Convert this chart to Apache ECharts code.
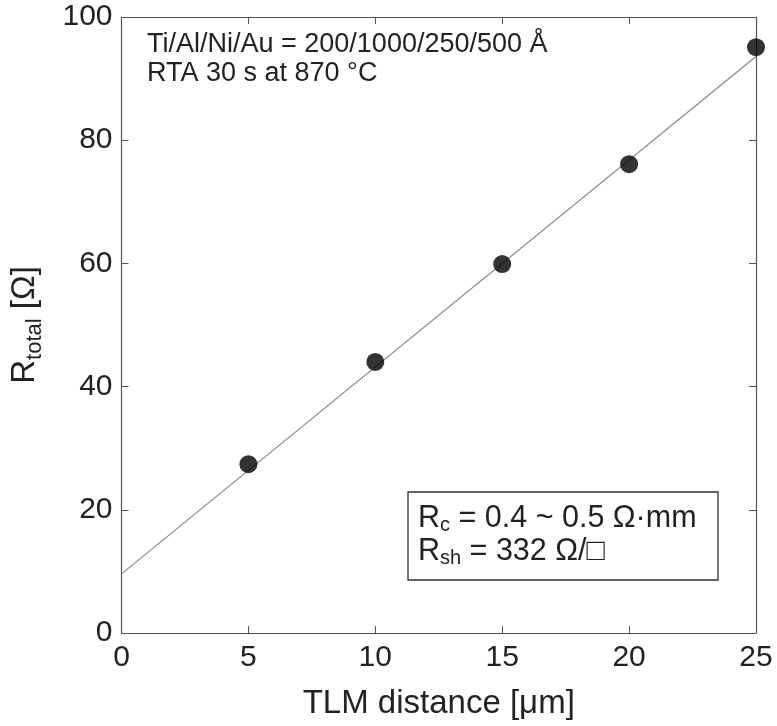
<!DOCTYPE html>
<html>
<head>
<meta charset="utf-8">
<script src="https://cdn.jsdelivr.net/npm/echarts@6/dist/echarts.min.js"></script>
<style>
  html, body { margin: 0; padding: 0; background: #fff; }
  #chart { width: 777px; height: 726px; }
</style>
</head>
<body>
<div id="chart"></div>
<script>
// TLM data
var distances = [5, 10, 15, 20, 25];
var rTotal = [27.4, 44.0, 59.9, 76.1, 95.1];
// linear fit drawn as a thin line (ends)
var fitX = [0, 25];
var fitY = [9.6, 93.6];

var xTicks = [0, 5, 10, 15, 20, 25];
var yTicks = [0, 20, 40, 60, 80, 100];

var chart = echarts.init(document.getElementById('chart'));

var font = 'Liberation Sans, Arial, sans-serif';
var axisColor = '#555';

function frameAxis(extra) {
  var base = {
    axisLine: { show: true, onZero: false, lineStyle: { color: axisColor, width: 1.2 } },
    axisTick: { show: true, inside: true, length: 7, lineStyle: { color: axisColor } },
    splitLine: { show: false }
  };
  return Object.assign(base, extra);
}

var option = {
  backgroundColor: '#fff',
  animation: false,
  grid: { left: 120, right: 21, top: 17, bottom: 93 },
  xAxis: [
    frameAxis({
      type: 'value', min: xTicks[0], max: xTicks[xTicks.length - 1], interval: 5,
      position: 'bottom',
      axisLabel: { color: '#222', fontSize: 30, fontFamily: font, margin: 10 },
      name: 'TLM distance [μm]',
      nameLocation: 'middle',
      nameGap: 54,
      nameTextStyle: { color: '#222', fontSize: 33, fontFamily: font }
    }),
    frameAxis({
      type: 'value', min: xTicks[0], max: xTicks[xTicks.length - 1], interval: 5,
      position: 'top', axisLabel: { show: false }
    })
  ],
  yAxis: [
    frameAxis({
      type: 'value', min: yTicks[0], max: yTicks[yTicks.length - 1], interval: 20,
      position: 'left',
      axisLabel: { color: '#222', fontSize: 30, fontFamily: font, margin: 9 },
      name: '{a|R}{b|total}{a| [Ω]}',
      nameLocation: 'middle',
      nameGap: 76,
      nameRotate: 90,
      nameTextStyle: {
        color: '#222', fontFamily: font,
        rich: {
          a: { fontSize: 33, fontFamily: font, color: '#222', lineHeight: 42, verticalAlign: 'middle' },
          b: { fontSize: 22, fontFamily: font, color: '#222', lineHeight: 22, verticalAlign: 'bottom' }
        }
      }
    }),
    frameAxis({
      type: 'value', min: yTicks[0], max: yTicks[yTicks.length - 1], interval: 20,
      position: 'right', axisLabel: { show: false }
    })
  ],
  series: [
    {
      name: 'fit',
      type: 'line',
      data: fitX.map(function (x, i) { return [x, fitY[i]]; }),
      showSymbol: false,
      lineStyle: { color: '#888', width: 1.2 },
      z: 2
    },
    {
      name: 'R total',
      type: 'scatter',
      data: distances.map(function (x, i) { return [x, rTotal[i]]; }),
      symbol: 'circle',
      symbolSize: 18,
      itemStyle: { color: '#000' },
      z: 3
    }
  ],
  graphic: [
    {
      type: 'text', left: 147, top: 30,
      style: {
        text: 'Ti/Al/Ni/Au = 200/1000/250/500 Å\nRTA 30 s at 870 °C',
        fontSize: 27, fontFamily: font, fill: '#222', lineHeight: 29
      }
    },
    {
      type: 'rect',
      shape: { x: 408, y: 492, width: 310, height: 88 },
      style: { fill: '#fff', stroke: '#333', lineWidth: 1.3 }
    },
    {
      type: 'text', left: 418, top: 503,
      style: {
        text: '{a|R}{b|c}{a| = 0.4 ~ 0.5 Ω·mm}\n{a|R}{b|sh}{a| = 332 Ω/□}',
        fontFamily: font, fill: '#222',
        rich: {
          a: { fontSize: 30.5, fontFamily: font, fill: '#222', lineHeight: 33, verticalAlign: 'middle' },
          b: { fontSize: 20, fontFamily: font, fill: '#222', lineHeight: 20, verticalAlign: 'bottom' }
        }
      }
    }
  ]
};

chart.setOption(option);
</script>
</body>
</html>
